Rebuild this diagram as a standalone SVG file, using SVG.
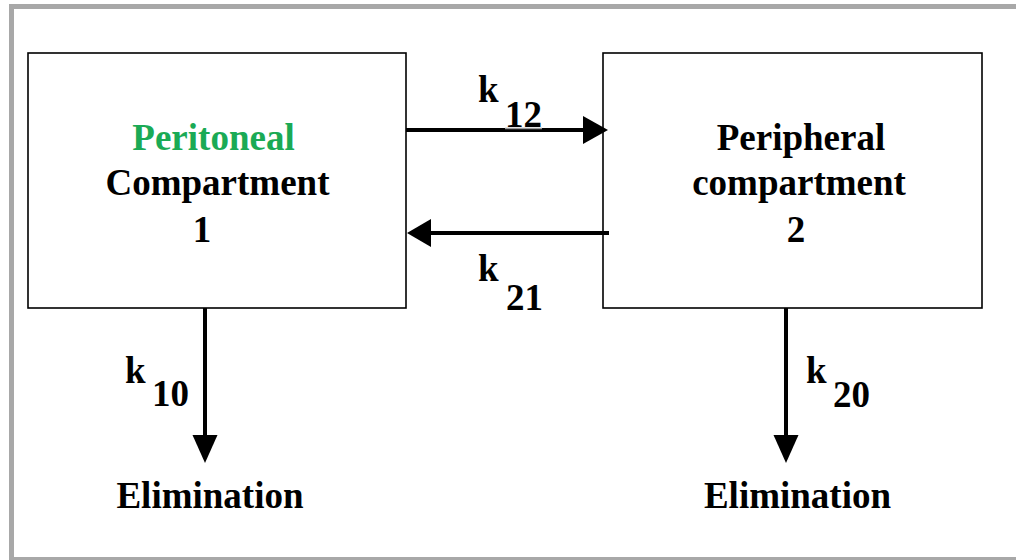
<svg xmlns="http://www.w3.org/2000/svg" width="1016" height="560" viewBox="0 0 1016 560">
<style>
.box{fill:#fff;stroke:#000;stroke-width:1.6}
.t{font-family:"Liberation Serif","Times New Roman",serif;font-weight:bold;font-size:37px;fill:#000}
.g{fill:#1aaa55}
.ln{stroke:#000;stroke-width:4;fill:none}
.hd{fill:#000}
</style>
<rect x="0" y="0" width="1016" height="560" fill="#fff"/>
<rect x="11.5" y="6.5" width="1012" height="553" fill="none" stroke="#a8a8a8" stroke-width="5"/>
<g id="node-peritoneal">
<rect class="box" x="28" y="53" width="378" height="255"/>
<text class="t g" x="213.5" y="150" text-anchor="middle">Peritoneal</text>
<text class="t" x="217.5" y="195" text-anchor="middle">Compartment</text>
<text class="t" x="202" y="242" text-anchor="middle">1</text>
</g>
<g id="node-peripheral">
<rect class="box" x="603" y="53" width="379" height="255"/>
<text class="t" x="801" y="150" text-anchor="middle">Peripheral</text>
<text class="t" x="799" y="195" text-anchor="middle">compartment</text>
<text class="t" x="796" y="242" text-anchor="middle">2</text>
</g>
<g id="node-elim1">
<text class="t" x="210" y="508" text-anchor="middle">Elimination</text>
</g>
<g id="node-elim2">
<text class="t" x="797.5" y="508" text-anchor="middle">Elimination</text>
</g>
<g id="connectors">
<line class="ln" x1="406" y1="130" x2="586" y2="130"/>
<polygon class="hd" points="608,130 583,116 583,144"/>
<line class="ln" x1="609" y1="233" x2="428" y2="233"/>
<polygon class="hd" points="407,233 431,219 431,247"/>
<line class="ln" x1="205" y1="308" x2="205" y2="437"/>
<polygon class="hd" points="205,463 192.5,435 217.5,435"/>
<line class="ln" x1="786" y1="308" x2="786" y2="437"/>
<polygon class="hd" points="786,463 773.5,435 798.5,435"/>
<text class="t" x="478" y="102">k</text>
<text class="t" x="505" y="127">12</text>
<line x1="505" y1="128.5" x2="542" y2="128.5" stroke="#999" stroke-width="1.5"/>
<text class="t" x="478" y="281">k</text>
<text class="t" x="506" y="310">21</text>
<text class="t" x="125" y="383">k</text>
<text class="t" x="152" y="406">10</text>
<text class="t" x="806" y="383">k</text>
<text class="t" x="833" y="407">20</text>
</g>
</svg>
